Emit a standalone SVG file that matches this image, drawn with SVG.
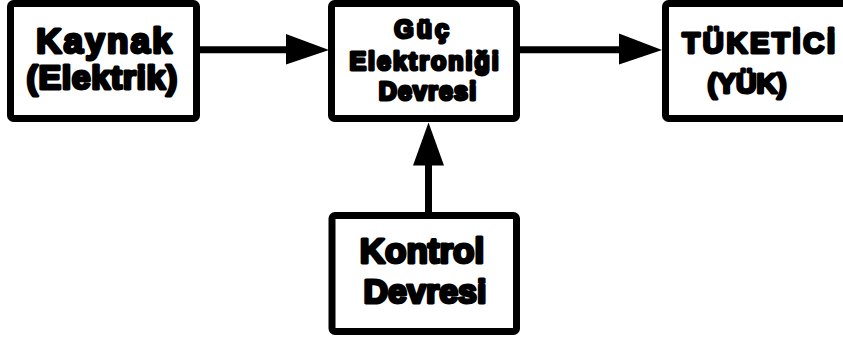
<svg xmlns="http://www.w3.org/2000/svg" width="843" height="342" viewBox="0 0 843 342">
  <style>
    .box { fill: #ffffff; stroke: #000000; stroke-width: 7; }
    .lbl { font-family: "Liberation Sans", Arial, sans-serif; font-weight: bold; fill: #000000; stroke: #000000; stroke-width: 3; stroke-linejoin: round; text-anchor: middle; }
    .wire { stroke: #000000; stroke-width: 7; fill: none; }
    .head { fill: #000000; stroke: none; }
  </style>
  <rect width="843" height="342" fill="#ffffff"/>

  <g id="connectors">
    <!-- source to power electronics -->
    <line class="wire" x1="196" y1="49.7" x2="290" y2="49.7"/>
    <polygon class="head" points="286,34 329,50 286,64.5"/>
    <!-- power electronics to load -->
    <line class="wire" x1="517" y1="49.7" x2="622" y2="49.7"/>
    <polygon class="head" points="619,33.5 662,50 619,64.5"/>
    <!-- control to power electronics -->
    <line class="wire" x1="428.5" y1="214" x2="428.5" y2="160"/>
    <polygon class="head" points="413,165.5 428.5,122.5 444,165.5"/>
  </g>

  <g id="kaynak">
    <rect class="box" x="10.5" y="3.5" width="186" height="115" rx="3"/>
    <text class="lbl" x="105" y="53" font-size="35" letter-spacing="2.2">Kaynak</text>
    <text class="lbl" x="102.3" y="89" font-size="34" letter-spacing="0.6">(Elektrik)</text>
  </g>

  <g id="guc-elektronigi">
    <rect class="box" x="331.5" y="3.5" width="185" height="115" rx="3"/>
    <text class="lbl" x="423" y="38" font-size="25" letter-spacing="3">Güç</text>
    <text class="lbl" x="425" y="70" font-size="25" letter-spacing="2">Elektroniği</text>
    <text class="lbl" x="428" y="100" font-size="25" letter-spacing="1.2">Devresi</text>
  </g>

  <g id="tuketici">
    <rect class="box" x="665.5" y="3.5" width="195" height="115" rx="3"/>
    <text class="lbl" x="760" y="53" font-size="29" letter-spacing="2.7">TÜKETİCİ</text>
    <text class="lbl" x="747" y="93" font-size="28.5">(YÜK)</text>
  </g>

  <g id="kontrol">
    <rect class="box" x="332" y="215.5" width="184.5" height="116" rx="3"/>
    <text class="lbl" x="422" y="263" font-size="35">Kontrol</text>
    <text class="lbl" x="425" y="303" font-size="34">Devresi</text>
  </g>
</svg>
